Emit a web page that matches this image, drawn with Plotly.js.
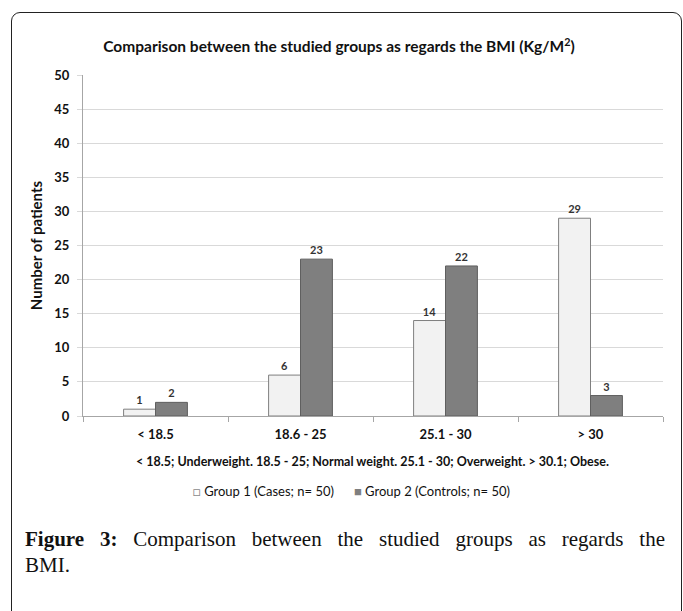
<!DOCTYPE html>
<html><head><meta charset="utf-8">
<script src="https://cdn.plot.ly/plotly-3.0.1.min.js"></script>
<style>
html,body{margin:0;padding:0;background:#fff;}
#wrap{position:relative;width:683px;height:611px;overflow:hidden;}
#frame{position:absolute;left:11px;top:12px;width:671px;height:650px;border:1.5px solid #222;border-radius:9px;box-sizing:border-box;}
#chart{position:absolute;left:0;top:0;width:683px;height:611px;}
#cap{position:absolute;left:25px;top:526px;width:640px;font-family:"Liberation Serif",serif;font-size:21px;line-height:26px;color:#111;}
#cap .l1{text-align:justify;text-align-last:justify;}
</style></head><body>
<div id="wrap"><div id="frame"></div><div id="chart"></div>
<div id="cap"><div class="l1"><b>Figure 3:</b> Comparison between the studied groups as regards the</div><div>BMI.</div></div></div>
<script>
const categories = ["< 18.5", "18.6 - 25", "25.1 - 30", "> 30"];
const group1 = [1, 6, 14, 29];
const group2 = [2, 23, 22, 3];
const seriesNames = ["Group 1 (Cases; n= 50)", "Group 2 (Controls; n= 50)"];
const yTicks = [0,5,10,15,20,25,30,35,40,45,50];
const font = "Lato, 'Open Sans', sans-serif";
const lblFont = {family: font, size: 11, color: "#333", weight: "bold"};
const traces = [
 {type:"bar", x:categories, y:group1, name:seriesNames[0], text:group1.map(String), textposition:"outside", textfont:lblFont, cliponaxis:false,
  marker:{color:"#f2f2f2", line:{color:"#7f7f7f", width:1}}},
 {type:"bar", x:categories, y:group2, name:seriesNames[1], text:group2.map(String), textposition:"outside", textfont:lblFont, cliponaxis:false,
  marker:{color:"#7f7f7f", line:{color:"#5f5f5f", width:1}}}
];
const legendText = '<span style="color:#8a8a8a">□</span> ' + seriesNames[0] + '      ' +
                   '<span style="color:#7f7f7f">■</span> ' + seriesNames[1];
// plot area in pixels: x 83..663, y 75..416
const px = v => (v - 83) / 580;
const py = v => (416 - v) / 341;
const layout = {
 width:683, height:611, paper_bgcolor:"rgba(0,0,0,0)", plot_bgcolor:"rgba(0,0,0,0)",
 margin:{l:83, r:20, t:75, b:195}, showlegend:false,
 barmode:"group", bargap:0.56, bargroupgap:0,
 title:{text:"<b>Comparison between the studied groups as regards the BMI (Kg/M<sup>2</sup>)</b>", font:{family:font, size:15.5, color:"#111"}, x:339/683, xref:"container", y:1-47/611, yref:"container", yanchor:"middle", xanchor:"center"},
 xaxis:{showgrid:false, showline:true, linecolor:"#a6a6a6", linewidth:1, ticks:"outside", ticklen:5, tickcolor:"#a6a6a6", tickson:"boundaries", ticklabelstandoff:6,
  tickfont:{family:font, size:13, color:"#111", weight:"bold"}, fixedrange:true},
 yaxis:{range:[0,50], tickvals:yTicks, showgrid:true, gridcolor:"#d9d9d9", gridwidth:1, showline:true, linecolor:"#a6a6a6", ticks:"outside", ticklen:5, tickcolor:"#d9d9d9", ticklabelstandoff:5,
  tickfont:{family:font, size:13, color:"#111", weight:"bold"}, zeroline:false,
  title:{text:"<b>Number of patients</b>", font:{family:font, size:15, color:"#111"}, standoff:8}},
 annotations:[
  {text:"<b>< 18.5; Underweight. 18.5 - 25; Normal weight. 25.1 - 30; Overweight. > 30.1; Obese.</b>", xref:"paper", yref:"paper", x:px(372), y:py(462), xanchor:"center", yanchor:"middle", showarrow:false, font:{family:font, size:12.5, color:"#111"}},
  {text:legendText, xref:"paper", yref:"paper", x:px(191), y:py(491), xanchor:"left", yanchor:"middle", showarrow:false, font:{family:font, size:13, color:"#111"}}
 ]
};
Plotly.newPlot("chart", traces, layout, {displayModeBar:false, staticPlot:true});
</script></body></html>
